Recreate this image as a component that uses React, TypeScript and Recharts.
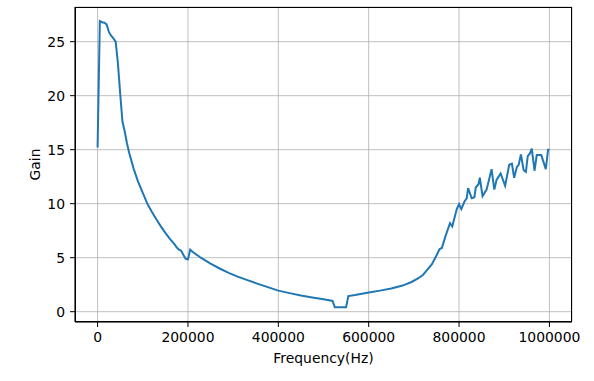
import { CartesianGrid, Label, Line, LineChart, XAxis, YAxis } from "recharts";

// frequency sweep
const freqHz = [
  0, 5000, 10000, 15000, 20000, 25000, 30000, 35000, 40000, 45000, 50000,
  55000, 60000, 65000, 70000, 80000, 90000, 100000, 110000, 120000, 130000,
  140000, 150000, 160000, 170000, 175000, 180000, 185000, 190000, 195000,
  200000, 205000, 210000, 230000, 250000, 270000, 290000, 310000, 330000,
  350000, 375000, 400000, 425000, 450000, 475000, 500000, 520000, 525000,
  550000, 555000, 570000, 600000, 625000, 650000, 675000, 695000, 710000,
  720000, 730000, 740000, 750000, 757000, 762000, 770000, 780000, 785000,
  795000, 800000, 805000, 812000, 817000, 820000, 828000, 834000, 837000,
  843000, 846000, 852000, 861000, 872000, 878000, 883000, 892000, 902000,
  911000, 917000, 922000, 928000, 932000, 937000, 943000, 948000, 952000,
  957000, 961000, 967000, 972000, 982000, 992000, 997000, 1000000,
];

const gain = [
  15.2, 26.9, 26.8, 26.75, 26.6, 25.9, 25.55, 25.3, 25.0, 23.0, 20.2,
  17.6, 16.7, 15.6, 14.7, 13.2, 12.0, 11.0, 10.0, 9.25, 8.55,
  7.9, 7.3, 6.75, 6.25, 5.95, 5.75, 5.65, 5.25, 4.9,
  4.85, 5.75, 5.55, 4.95, 4.45, 4.0, 3.6, 3.25, 2.95,
  2.65, 2.3, 1.95, 1.72, 1.5, 1.32, 1.15, 1.0, 0.42,
  0.42, 1.45, 1.55, 1.78, 1.95, 2.15, 2.42, 2.75, 3.1,
  3.4, 3.9, 4.4, 5.2, 5.8, 5.9, 7.0, 8.2, 7.9,
  9.5, 9.95, 9.5, 10.2, 10.5, 11.45, 10.5, 10.6, 11.5,
  11.8, 12.4, 10.7, 11.3, 13.2, 11.3, 12.2, 12.8, 11.65,
  13.6, 13.7, 12.4, 13.4, 13.6, 14.55, 13.1, 12.95, 14.4,
  14.65, 15.1, 13.05, 14.5, 14.5, 13.2, 15.0, 15.0,
];

const xTicks = [0, 200000, 400000, 600000, 800000, 1000000];
const yTicks = [0, 5, 10, 15, 20, 25];

const data = freqHz.map((f, i) => ({ freq: f, gain: gain[i] }));

const font = "'DejaVu Sans', sans-serif";
const tickStyle = { fill: "#000", fontSize: 13.9, fontFamily: font };

export default function App() {
  return (
    <div style={{ position: "absolute", left: 0, top: 0, width: 594, height: 381, background: "#fff" }}>
      <LineChart
        width={594}
        height={381}
        data={data}
        margin={{ top: 7, right: 22, bottom: 9, left: 0 }}
      >
        <CartesianGrid stroke="#b0b0b0" strokeWidth={0.8} />
        <XAxis
          dataKey="freq"
          type="number"
          domain={[-50000, 1050000]}
          ticks={xTicks}
          allowDataOverflow
          height={50}
          tickSize={5}
          tickMargin={5}
          tick={tickStyle}
          axisLine={{ stroke: "#000" }}
          tickLine={{ stroke: "#000" }}
        >
          <Label
            value="Frequency(Hz)"
            position="insideBottom"
            offset={9}
            style={{ fill: "#000", fontSize: 13.9, fontFamily: font }}
          />
        </XAxis>
        <YAxis
          type="number"
          domain={[-0.954, 28.21]}
          ticks={yTicks}
          allowDataOverflow
          width={75}
          tickSize={5}
          tickMargin={5}
          tick={tickStyle}
          axisLine={{ stroke: "#000" }}
          tickLine={{ stroke: "#000" }}
        >
          <Label
            value="Gain"
            angle={-90}
            position="insideLeft"
            offset={35}
            style={{ fill: "#000", fontSize: 13.9, fontFamily: font, textAnchor: "middle" }}
          />
        </YAxis>
        <Line
          type="linear"
          dataKey="gain"
          stroke="#1f77b4"
          strokeWidth={2}
          dot={false}
          isAnimationActive={false}
        />
      </LineChart>
      <div
        style={{
          position: "absolute",
          left: 75,
          top: 7,
          width: 497,
          height: 315,
          boxSizing: "border-box",
          border: "1px solid #000",
          pointerEvents: "none",
        }}
      />
    </div>
  );
}
